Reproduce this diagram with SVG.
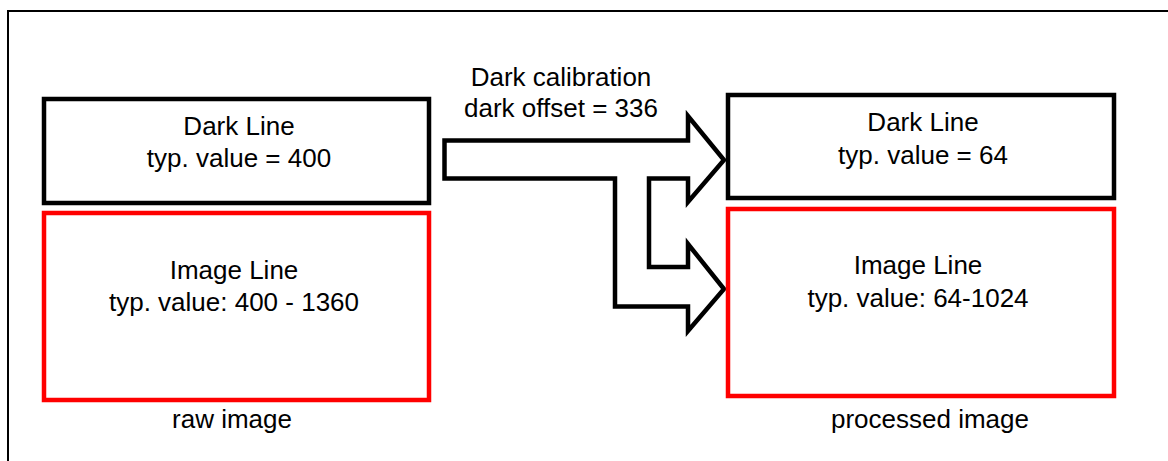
<svg xmlns="http://www.w3.org/2000/svg" width="1168" height="461" viewBox="0 0 1168 461">
<style>
.t{font-family:"Liberation Sans",Arial,sans-serif;font-size:26px;fill:#000;text-anchor:middle}
.bk{fill:#fff;stroke:#000;stroke-width:4.5}
.rd{fill:#fff;stroke:#f00;stroke-width:4.5}
</style>
<rect width="1168" height="461" fill="#fff"/>
<rect x="8" y="11" width="1200" height="500" fill="none" stroke="#000" stroke-width="2"/>
<g id="connectors">
<path d="M444.5,140.5 L688,140.5 L688,116 L724,160 L688,202 L688,178.5 L649,178.5 L649,267 L688,267 L688,244 L724,289 L688,331 L688,306.5 L615,306.5 L615,178.5 L444.5,178.5 Z" fill="#fff" stroke="#000" stroke-width="4.5" stroke-linejoin="miter"/>
<text class="t" x="561" y="86">Dark calibration</text>
<text class="t" x="561" y="117">dark offset = 336</text>
</g>
<g id="raw-dark">
<rect class="bk" x="44" y="99" width="385" height="104"/>
<text class="t" x="239" y="135">Dark Line</text>
<text class="t" x="239" y="167">typ. value = 400</text>
</g>
<g id="raw-image">
<rect class="rd" x="44" y="213" width="385" height="187"/>
<text class="t" x="234" y="279">Image Line</text>
<text class="t" x="234" y="311">typ. value: 400 - 1360</text>
</g>
<g id="raw-label"><text class="t" x="232" y="428">raw image</text></g>
<g id="proc-dark">
<rect class="bk" x="728" y="95" width="386" height="103"/>
<text class="t" x="923" y="131">Dark Line</text>
<text class="t" x="923" y="164">typ. value = 64</text>
</g>
<g id="proc-image">
<rect class="rd" x="728" y="209" width="386" height="187"/>
<text class="t" x="918" y="274">Image Line</text>
<text class="t" x="918" y="307">typ. value: 64-1024</text>
</g>
<g id="proc-label"><text class="t" x="930" y="428">processed image</text></g>
</svg>
